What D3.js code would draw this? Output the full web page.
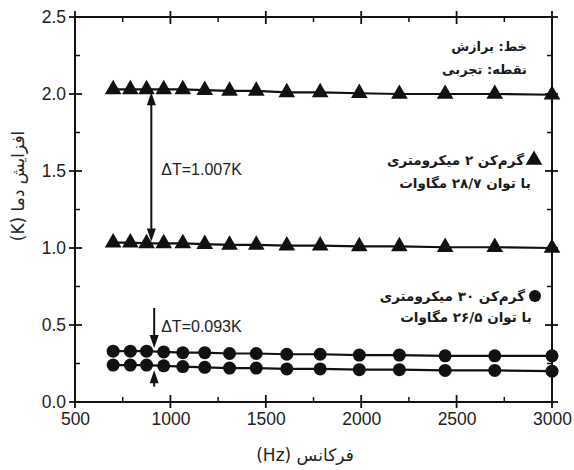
<!DOCTYPE html>
<html>
<head>
<meta charset="utf-8">
<script src="https://cdn.jsdelivr.net/npm/d3@7"></script>
<style>
  body { margin: 0; background: #fff; }
  svg { display: block; }
</style>
</head>
<body>
<svg width="574" height="470"></svg>
<script>
// frequency (Hz)
var freq = [700, 790, 875, 965, 1065, 1180, 1310, 1450, 1610, 1785, 1990, 2200, 2440, 2700, 3000];
// 2 um heater, top / bottom
var triTop = [2.03, 2.03, 2.03, 2.03, 2.03, 2.025, 2.02, 2.02, 2.01, 2.01, 2.005, 2.0, 2.0, 2.0, 1.995];
var triBot = [1.035, 1.035, 1.03, 1.03, 1.03, 1.025, 1.02, 1.02, 1.015, 1.015, 1.01, 1.01, 1.005, 1.005, 1.0];
// 30 um heater
var cirTop = [0.33, 0.33, 0.33, 0.325, 0.32, 0.32, 0.315, 0.315, 0.31, 0.31, 0.305, 0.305, 0.30, 0.30, 0.30];
var cirBot = [0.24, 0.24, 0.24, 0.235, 0.23, 0.225, 0.22, 0.22, 0.215, 0.215, 0.21, 0.21, 0.205, 0.205, 0.20];

var xTicks = [500, 1000, 1500, 2000, 2500, 3000];
var yTicks = [0.0, 0.5, 1.0, 1.5, 2.0, 2.5];

var svg = d3.select("svg"),
    margin = {top: 17, right: 22, bottom: 68, left: 75},
    width = +svg.attr("width") - margin.left - margin.right,
    height = +svg.attr("height") - margin.top - margin.bottom,
    g = svg.append("g").attr("transform", "translate(" + margin.left + "," + margin.top + ")");

var x = d3.scaleLinear().domain([500, 3000]).range([0, width]);
var y = d3.scaleLinear().domain([0, 2.5]).range([height, 0]);

var tickFont = "'Liberation Sans', Arial, sans-serif";
var faFont = "'DejaVu Sans', sans-serif";

// minor ticks (inward)
var xMinor = d3.range(750, 3000, 500);
var yMinor = d3.range(0.25, 2.5, 0.5);
xMinor.forEach(function(v) {
  g.append("line").attr("x1", x(v)).attr("x2", x(v)).attr("y1", height).attr("y2", height - 5)
    .attr("stroke", "#111").attr("stroke-width", 1.5);
  g.append("line").attr("x1", x(v)).attr("x2", x(v)).attr("y1", 0).attr("y2", 5)
    .attr("stroke", "#111").attr("stroke-width", 1.5);
});
yMinor.forEach(function(v) {
  g.append("line").attr("x1", 0).attr("x2", 5).attr("y1", y(v)).attr("y2", y(v))
    .attr("stroke", "#111").attr("stroke-width", 1.5);
  g.append("line").attr("x1", width).attr("x2", width - 5).attr("y1", y(v)).attr("y2", y(v))
    .attr("stroke", "#111").attr("stroke-width", 1.5);
});

// major ticks crossing the frame
xTicks.forEach(function(v) {
  g.append("line").attr("x1", x(v)).attr("x2", x(v)).attr("y1", height + 6).attr("y2", height - 7)
    .attr("stroke", "#111").attr("stroke-width", 1.8);
  g.append("line").attr("x1", x(v)).attr("x2", x(v)).attr("y1", -6).attr("y2", 7)
    .attr("stroke", "#111").attr("stroke-width", 1.8);
});
yTicks.forEach(function(v) {
  g.append("line").attr("x1", -6).attr("x2", 7).attr("y1", y(v)).attr("y2", y(v))
    .attr("stroke", "#111").attr("stroke-width", 1.8);
  g.append("line").attr("x1", width + 6).attr("x2", width - 7).attr("y1", y(v)).attr("y2", y(v))
    .attr("stroke", "#111").attr("stroke-width", 1.8);
});

// axes labels via d3 axes (no tick lines, domain hidden)
var xAxis = g.append("g")
    .attr("transform", "translate(0," + height + ")")
    .call(d3.axisBottom(x).tickValues(xTicks).tickSize(0).tickPadding(11).tickFormat(d3.format("d")));
xAxis.select(".domain").remove();
xAxis.selectAll("text").attr("font-size", 17.5).attr("font-family", tickFont).attr("fill", "#222");

var yAxis = g.append("g")
    .call(d3.axisLeft(y).tickValues(yTicks).tickSize(0).tickPadding(9).tickFormat(d3.format(".1f")));
yAxis.select(".domain").remove();
yAxis.selectAll("text").attr("font-size", 17.5).attr("font-family", tickFont).attr("fill", "#222");

// frame
g.append("rect").attr("x", 0).attr("y", 0).attr("width", width).attr("height", height)
  .attr("fill", "none").attr("stroke", "#111").attr("stroke-width", 2);

// fit lines
var line = d3.line()
    .x(function(d, i) { return x(freq[i]); })
    .y(function(d) { return y(d); });

[triTop, triBot, cirTop, cirBot].forEach(function(s) {
  g.append("path").datum(s)
    .attr("fill", "none").attr("stroke", "#111").attr("stroke-width", 2.2)
    .attr("d", line);
});

// markers
var tri = d3.symbol().type(d3.symbolTriangle).size(120);
[triTop, triBot].forEach(function(s) {
  g.selectAll(null).data(s).enter().append("path")
    .attr("d", tri)
    .attr("transform", function(d, i) { return "translate(" + x(freq[i]) + "," + y(d) + ")"; })
    .attr("fill", "#111");
});
[cirTop, cirBot].forEach(function(s) {
  g.selectAll(null).data(s).enter().append("circle")
    .attr("cx", function(d, i) { return x(freq[i]); })
    .attr("cy", function(d) { return y(d); })
    .attr("r", 6.5)
    .attr("fill", "#111");
});

// delta T arrows
function arrowHead(px, py, dir) {
  // dir = 1 pointing down, -1 pointing up
  g.append("path")
    .attr("d", "M" + px + "," + py + " L" + (px - 4.5) + "," + (py - dir * 13) +
               " L" + (px + 4.5) + "," + (py - dir * 13) + " Z")
    .attr("fill", "#111");
}
var ax1 = x(900);
var yA = y(2.025) + 2, yB = y(1.03) - 2;
g.append("line").attr("x1", ax1).attr("x2", ax1).attr("y1", yA + 8).attr("y2", yB - 8)
  .attr("stroke", "#111").attr("stroke-width", 2);
arrowHead(ax1, yA, -1);
arrowHead(ax1, yB, 1);
g.append("text").attr("x", ax1 + 10).attr("y", y(1.51) + 6)
  .attr("font-family", tickFont).attr("font-size", 16).attr("fill", "#222")
  .text("\u0394T=1.007K");

var ax2 = x(915);
var yC = y(0.325) - 4, yD = y(0.232) + 4;
g.append("line").attr("x1", ax2).attr("x2", ax2).attr("y1", y(0.61)).attr("y2", yC - 8)
  .attr("stroke", "#111").attr("stroke-width", 2);
arrowHead(ax2, yC, 1);
g.append("line").attr("x1", ax2).attr("x2", ax2).attr("y1", y(0.1)).attr("y2", yD + 8)
  .attr("stroke", "#111").attr("stroke-width", 2);
arrowHead(ax2, yD, -1);
g.append("text").attr("x", ax2 + 7).attr("y", y(0.495) + 6)
  .attr("font-family", tickFont).attr("font-size", 16).attr("fill", "#222")
  .text("\u0394T=0.093K");

// persian notes
function faText(tx, ty, str, size, anchor) {
  return svg.append("text").attr("x", tx).attr("y", ty)
    .attr("direction", "rtl").attr("text-anchor", anchor || "start")
    .attr("font-family", faFont).attr("font-weight", "bold")
    .attr("font-size", size || 13).attr("fill", "#1a1a1a")
    .text(str);
}
faText(527, 51, "خط: برازش");
faText(527, 74, "نقطه: تجربی");

svg.append("path").attr("d", tri).attr("transform", "translate(534,160)").attr("fill", "#111");
faText(524, 165, "گرم‌کن ۲ میکرومتری", 13.5);
faText(465, 188, "با توان ۲۸/۷ مگاوات", 13.5, "middle");

svg.append("circle").attr("cx", 535).attr("cy", 296).attr("r", 6).attr("fill", "#111");
faText(525, 301, "گرم‌کن ۳۰ میکرومتری", 13.5);
faText(466, 322, "با توان ۲۶/۵ مگاوات", 13.5, "middle");

// axis titles
svg.append("text").attr("x", 305).attr("y", 461)
  .attr("direction", "rtl").attr("text-anchor", "middle")
  .attr("font-family", faFont).attr("font-size", 17).attr("fill", "#222")
  .text("فرکانس (Hz)");

svg.append("text").attr("transform", "translate(24,186) rotate(-90)")
  .attr("direction", "rtl").attr("text-anchor", "middle")
  .attr("font-family", faFont).attr("font-size", 17).attr("fill", "#222")
  .text("افزایش دما (K)");
</script>
</body>
</html>
